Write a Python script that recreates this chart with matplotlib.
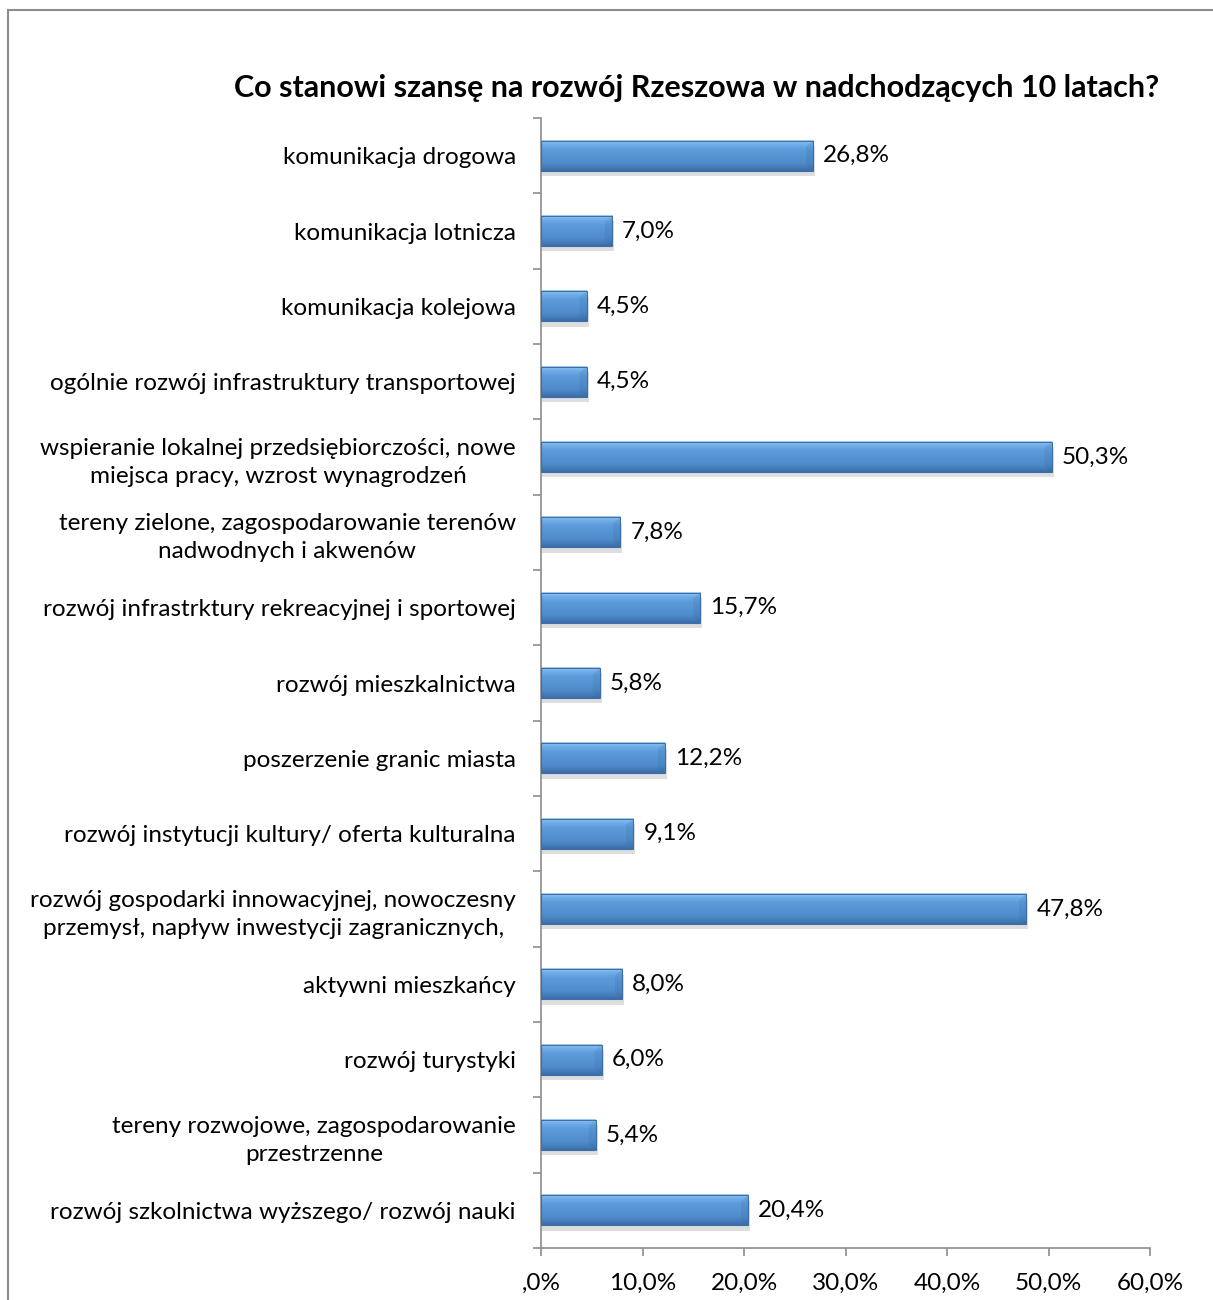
import matplotlib.pyplot as plt
import matplotlib.patches as mpatches
import numpy as np
from matplotlib.colors import to_rgb

plt.rcParams['font.family'] = ['Lato', 'DejaVu Sans']

# Data
categories = [
    'komunikacja drogowa',
    'komunikacja lotnicza',
    'komunikacja kolejowa',
    'ogólnie rozwój infrastruktury transportowej',
    'wspieranie lokalnej przedsiębiorczości, nowe\nmiejsca pracy, wzrost wynagrodzeń',
    'tereny zielone, zagospodarowanie terenów\nnadwodnych i akwenów',
    'rozwój infrastrktury rekreacyjnej i sportowej',
    'rozwój mieszkalnictwa',
    'poszerzenie granic miasta',
    'rozwój instytucji kultury/ oferta kulturalna',
    'rozwój gospodarki innowacyjnej, nowoczesny\nprzemysł, napływ inwestycji zagranicznych,',
    'aktywni mieszkańcy',
    'rozwój turystyki',
    'tereny rozwojowe, zagospodarowanie\nprzestrzenne',
    'rozwój szkolnictwa wyższego/ rozwój nauki',
]
values = [26.8, 7.0, 4.5, 4.5, 50.3, 7.8, 15.7, 5.8, 12.2, 9.1, 47.8, 8.0, 6.0, 5.4, 20.4]
xticks = [0, 10, 20, 30, 40, 50, 60]
xticklabels = [',0%', '10,0%', '20,0%', '30,0%', '40,0%', '50,0%', '60,0%']
title = 'Co stanowi szansę na rozwój Rzeszowa w nadchodzących 10 latach?'

fig = plt.figure(figsize=(12.13, 13), dpi=100)
ax = fig.add_axes([541 / 1213, 1 - 1248 / 1300, (1150 - 541) / 1213, (1248 - 118) / 1300])

# outer chart border (only top and left visible in the crop)
fig.add_artist(mpatches.Rectangle((7.5 / 1213, -0.1), 1.2, 1 - 9.5 / 1300 + 0.1,
                                  transform=fig.transFigure, fill=False,
                                  edgecolor='#8c8c8c', lw=1.5))

n = len(categories)
h = 0.4
# vertical gradient of the bevelled bars: light top -> blue -> darker bottom
stops = [0.0, 0.12, 0.3, 0.75, 1.0]
cols = [to_rgb(c) for c in ['#a9d3f7', '#74b0ea', '#5d9cdb', '#4f8bcb', '#3b6ea8']]
t = np.linspace(0, 1, 80)
grad = np.stack([np.interp(t, stops, [c[k] for c in cols]) for k in range(3)], axis=1)
grad = grad[:, None, :]

for i, v in enumerate(values):
    # shadow
    ax.add_patch(mpatches.Rectangle((0.1, i - h / 2 + 0.07), v + 0.1, h,
                                    facecolor='#000000', alpha=0.13, lw=0, zorder=1))
    ax.imshow(grad, extent=(0, v, i - h / 2, i + h / 2), origin='lower',
              aspect='auto', interpolation='bilinear', zorder=2)
    # right bevel
    ax.add_patch(mpatches.Polygon([(v, i - h / 2), (v - 0.7, i - h / 2 + 0.08),
                                   (v - 0.7, i + h / 2 - 0.08), (v, i + h / 2)],
                                  closed=True, facecolor='#2f5f95', alpha=0.15,
                                  lw=0, zorder=3))
    ax.add_patch(mpatches.Rectangle((0, i - h / 2), v, h, fill=False,
                                    edgecolor='#3d6ea5', lw=0.8, zorder=4))
    ax.text(v + 1.0, i, f'{v:.1f}'.replace('.', ',') + '%', va='center',
            ha='left', fontsize=17.5)

ax.set_xlim(0, 60)
ax.set_ylim(n - 0.5, -0.5)

ax.set_yticks(range(n))
ax.set_yticklabels(categories, fontsize=17.5, multialignment='center', linespacing=1.42)
ax.set_yticks(np.arange(-0.5, n, 1), minor=True)
ax.tick_params(axis='y', which='major', length=0, pad=18)
ax.tick_params(axis='y', which='minor', length=6, color='#8c8c8c', width=1.2)

ax.set_xticks(xticks)
ax.set_xticklabels(xticklabels, fontsize=17.5)
ax.tick_params(axis='x', length=6, color='#8c8c8c', width=1.2, pad=12)

for s in ['top', 'right']:
    ax.spines[s].set_visible(False)
for s in ['left', 'bottom']:
    ax.spines[s].set_color('#8c8c8c')
    ax.spines[s].set_linewidth(1.2)

fig.text(697 / 1213, 1 - 88 / 1300, title, ha='center', va='center',
         fontsize=22, fontweight='bold')

fig.savefig('out.png', dpi=100)
